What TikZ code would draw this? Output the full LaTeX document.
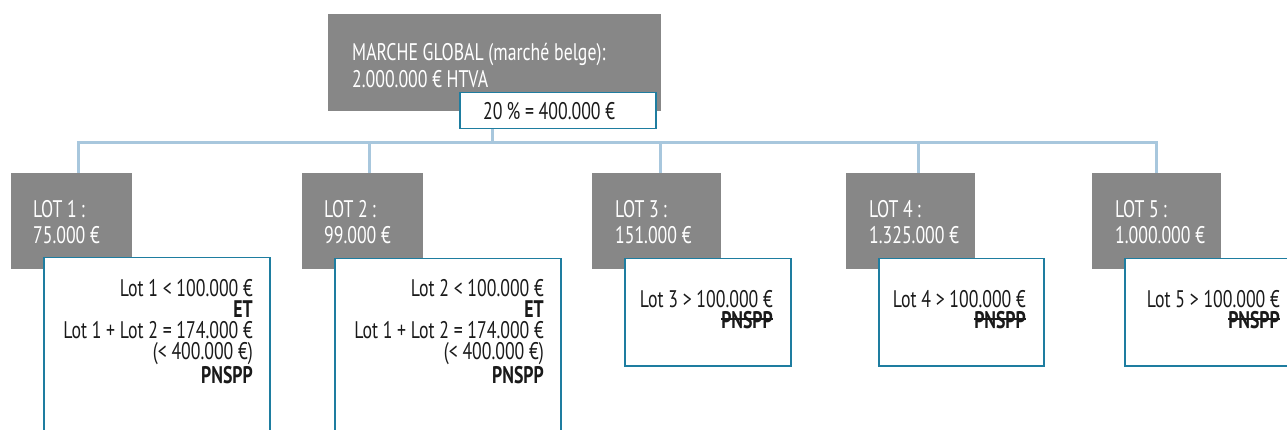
\documentclass[tikz,border=0pt]{standalone}
\usepackage{fontspec}
\setmainfont{PT Sans}[FakeStretch=0.74]
\definecolor{boxgray}{RGB}{135,135,135}
\definecolor{tealc}{RGB}{30,125,160}
\definecolor{linkblue}{RGB}{168,199,221}
\definecolor{inkc}{RGB}{26,26,26}
\newsavebox\strikebox
\newcommand\strikeout[1]{\sbox\strikebox{#1}\rlap{\usebox\strikebox}\rule[0.32em]{\wd\strikebox}{0.09em}}
\tikzset{
  graybox/.style={fill=boxgray, draw=none, inner sep=0pt, anchor=north west},
  whitebox/.style={fill=white, draw=tealc, line width=1.5pt, inner sep=0pt, anchor=north west},
  graytext/.style={text=white, inner sep=0pt, align=left, anchor=base west, font=\fontsize{24}{27}\selectfont},
  lottext/.style={text=inkc, inner sep=0pt, align=right, anchor=base east, font=\fontsize{24}{21}\selectfont},
  conn/.style={draw=linkblue, line width=3pt}
}
\begin{document}
\begin{tikzpicture}[x=1pt,y=-1pt]
\useasboundingbox (0,0) rectangle (1287,430);
\clip (0,0) rectangle (1287,430);
\fill[white] (0,0) rectangle (1287,430);
% bus coordinates
\coordinate (j0) at (492,143);
\coordinate (b1) at (78,143);
\coordinate (b2) at (369,143);
\coordinate (b3) at (660,143);
\coordinate (b4) at (918,143);
\coordinate (b5) at (1156,143);
% top
\node[graybox, minimum width=333pt, minimum height=97pt] (g0) at (328,14) {};
\node[whitebox, minimum width=196pt, minimum height=36pt] (w0) at (459,92) {};
% anchors are at the baseline of the last line
\node[graytext] (t0) at (352,88) {MARCHE GLOBAL (marché belge):\\2.000.000 € HTVA};
\node[lottext, anchor=base west] (u0) at (483,120) {20\,\% = 400.000 €};
% lot boxes
\node[graybox, minimum width=121pt, minimum height=96pt] (g1) at (11,173) {};
\node[graybox, minimum width=121pt, minimum height=96pt] (g2) at (302,173) {};
\node[graybox, minimum width=129pt, minimum height=96pt] (g3) at (592,173) {};
\node[graybox, minimum width=129pt, minimum height=96pt] (g4) at (846,173) {};
\node[graybox, minimum width=129pt, minimum height=96pt] (g5) at (1092,173) {};
% connectors
\draw[conn] (w0.south -| j0) -- (j0);
\draw[conn, line cap=rect] (b1) -- (b5);
\draw[conn] (b1) -- (b1 |- g1.north);
\draw[conn] (b2) -- (b2 |- g2.north);
\draw[conn] (b3) -- (b3 |- g3.north);
\draw[conn] (b4) -- (b4 |- g4.north);
\draw[conn] (b5) -- (b5 |- g5.north);
% gray texts
\node[graytext] (t1) at (33,244) {LOT 1\,:\\75.000 €};
\node[graytext] (t2) at (324,244) {LOT 2\,:\\99.000 €};
\node[graytext] (t3) at (615,244) {LOT 3\,:\\151.000 €};
\node[graytext] (t4) at (869,244) {LOT 4\,:\\1.325.000 €};
\node[graytext] (t5) at (1115,244) {LOT 5\,:\\1.000.000 €};
% white boxes
\node[whitebox, minimum width=226pt, minimum height=200pt] (w1) at (43,257) {};
\node[whitebox, minimum width=226pt, minimum height=200pt] (w2) at (334,258) {};
\node[whitebox, minimum width=166pt, minimum height=107pt] (w3) at (624,258) {};
\node[whitebox, minimum width=165pt, minimum height=107pt] (w4) at (878,258) {};
\node[whitebox, minimum width=180pt, minimum height=107pt] (w5) at (1124,258) {};
% white box texts
\node[lottext] (l1) at (253,383) {Lot 1 < 100.000 €\\\textbf{ET}\\Lot 1 + Lot 2 = 174.000 €\\(< 400.000 €)\\\textbf{PNSPP}};
\node[lottext] (l2) at (544,383) {Lot 2 < 100.000 €\\\textbf{ET}\\Lot 1 + Lot 2 = 174.000 €\\(< 400.000 €)\\\textbf{PNSPP}};
\node[lottext] (l3) at (773,328) {Lot 3 > 100.000 €\\\strikeout{\textbf{PNSPP}}};
\node[lottext] (l4) at (1026,328) {Lot 4 > 100.000 €\\\strikeout{\textbf{PNSPP}}};
\node[lottext] (l5) at (1280,328) {Lot 5 > 100.000 €\\\strikeout{\textbf{PNSPP}}};
\end{tikzpicture}
\end{document}
